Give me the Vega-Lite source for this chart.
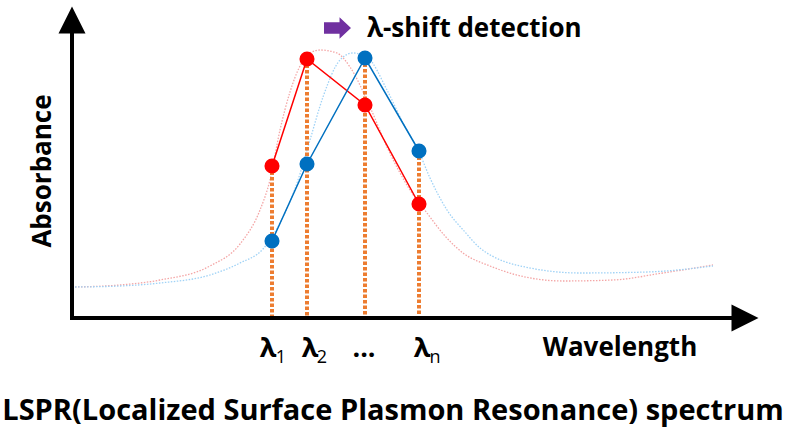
{
  "$schema": "https://vega.github.io/schema/vega-lite/v6.json",
  "width": 787,
  "height": 432,
  "autosize": "none",
  "padding": 0,
  "background": "white",
  "config": {"view": {"stroke": null}, "font": "Open Sans"},
  "resolve": {"scale": {"color": "independent", "shape": "independent"}},
  "datasets": {
    "curves": [
      {"sample": "red", "x": 3, "y": 31}, {"sample": "red", "x": 48, "y": 33}, {"sample": "red", "x": 88, "y": 38},
      {"sample": "red", "x": 138, "y": 52}, {"sample": "red", "x": 168, "y": 74}, {"sample": "red", "x": 188, "y": 108},
      {"sample": "red", "x": 198, "y": 138}, {"sample": "red", "x": 208, "y": 188}, {"sample": "red", "x": 218, "y": 226},
      {"sample": "red", "x": 228, "y": 252}, {"sample": "red", "x": 238, "y": 265}, {"sample": "red", "x": 248, "y": 268},
      {"sample": "red", "x": 265, "y": 265}, {"sample": "red", "x": 278, "y": 251}, {"sample": "red", "x": 298, "y": 211},
      {"sample": "red", "x": 315, "y": 171}, {"sample": "red", "x": 338, "y": 128}, {"sample": "red", "x": 355, "y": 105},
      {"sample": "red", "x": 373, "y": 82}, {"sample": "red", "x": 391, "y": 65}, {"sample": "red", "x": 418, "y": 52},
      {"sample": "red", "x": 441, "y": 44}, {"sample": "red", "x": 491, "y": 37}, {"sample": "red", "x": 541, "y": 38},
      {"sample": "red", "x": 591, "y": 45}, {"sample": "red", "x": 641, "y": 53},
      {"sample": "blue", "x": 3, "y": 31}, {"sample": "blue", "x": 48, "y": 32}, {"sample": "blue", "x": 88, "y": 35},
      {"sample": "blue", "x": 138, "y": 43}, {"sample": "blue", "x": 168, "y": 55}, {"sample": "blue", "x": 191, "y": 69},
      {"sample": "blue", "x": 208, "y": 95}, {"sample": "blue", "x": 225, "y": 135}, {"sample": "blue", "x": 238, "y": 178},
      {"sample": "blue", "x": 251, "y": 221}, {"sample": "blue", "x": 268, "y": 258}, {"sample": "blue", "x": 281, "y": 265},
      {"sample": "blue", "x": 295, "y": 261}, {"sample": "blue", "x": 315, "y": 228}, {"sample": "blue", "x": 331, "y": 195},
      {"sample": "blue", "x": 347, "y": 166}, {"sample": "blue", "x": 358, "y": 140}, {"sample": "blue", "x": 375, "y": 108},
      {"sample": "blue", "x": 393, "y": 86}, {"sample": "blue", "x": 408, "y": 70}, {"sample": "blue", "x": 458, "y": 50},
      {"sample": "blue", "x": 508, "y": 45}, {"sample": "blue", "x": 575, "y": 46}, {"sample": "blue", "x": 641, "y": 52}
    ],
    "samples": [
      {"sample": "red", "lambda": "λ1", "x": 200, "y": 152},
      {"sample": "red", "lambda": "λ2", "x": 235, "y": 259},
      {"sample": "red", "lambda": "...", "x": 293, "y": 213},
      {"sample": "red", "lambda": "λn", "x": 347, "y": 114},
      {"sample": "blue", "lambda": "λ1", "x": 200, "y": 77},
      {"sample": "blue", "lambda": "λ2", "x": 235, "y": 154},
      {"sample": "blue", "lambda": "...", "x": 293, "y": 260},
      {"sample": "blue", "lambda": "λn", "x": 347, "y": 167}
    ],
    "drops": [
      {"lambda": "λ1", "x": 200, "y": 152},
      {"lambda": "λ2", "x": 235, "y": 259},
      {"lambda": "...", "x": 293, "y": 260},
      {"lambda": "λn", "x": 347, "y": 167}
    ],
    "axes": [
      {"axis": "absorbance", "x": 0, "x2": 0, "y": -2, "y2": 296},
      {"axis": "wavelength", "x": -2, "x2": 666, "y": 0, "y2": 0}
    ],
    "heads": [
      {"dir": "up", "x": 0, "y": 298},
      {"dir": "right", "x": 673, "y": 0}
    ],
    "shift": [
      {"dir": "shift", "x": 265.5, "y": 290}
    ],
    "labels": [
      {"role": "lambda", "text": "λ", "x": 196, "y": -39},
      {"role": "lambda", "text": "λ", "x": 238, "y": -39},
      {"role": "lambda", "text": "...", "x": 292, "y": -39},
      {"role": "lambda", "text": "λ", "x": 350, "y": -39},
      {"role": "sub", "text": "1", "x": 209, "y": -45},
      {"role": "sub", "text": "2", "x": 250, "y": -45},
      {"role": "sub", "text": "n", "x": 363, "y": -45},
      {"role": "xtitle", "text": "Wavelength", "x": 548, "y": -38},
      {"role": "ytitle", "text": "Absorbance", "x": -29, "y": 147},
      {"role": "title", "text": "LSPR(Localized Surface Plasmon Resonance) spectrum", "x": 321, "y": -102},
      {"role": "note", "text": "λ-shift detection", "x": 295, "y": 281}
    ]
  },
  "encoding": {
    "x": {"field": "x", "type": "quantitative", "scale": {"domain": [-72, 715], "nice": false, "zero": false}, "axis": null},
    "y": {"field": "y", "type": "quantitative", "scale": {"domain": [-114, 318], "nice": false, "zero": false}, "axis": null}
  },
  "layer": [
    {
      "data": {"name": "curves"},
      "mark": {"type": "line", "interpolate": "monotone", "strokeWidth": 1.3, "strokeDash": [1.5, 1.5]},
      "encoding": {
        "detail": {"field": "sample"},
        "color": {"field": "sample", "type": "nominal", "scale": {"domain": ["red", "blue"], "range": ["#F4A6A6", "#9FD2F6"]}, "legend": null}
      }
    },
    {
      "data": {"name": "drops"},
      "mark": {"type": "rule", "color": "#ED7D31", "strokeWidth": 4, "strokeDash": [3.5, 2]},
      "encoding": {"y2": {"datum": 0}}
    },
    {
      "data": {"name": "axes"},
      "mark": {"type": "rule", "color": "black", "strokeWidth": 4},
      "encoding": {"x2": {"field": "x2"}, "y2": {"field": "y2"}}
    },
    {
      "data": {"name": "heads"},
      "mark": {"type": "point", "filled": true, "color": "black", "opacity": 1, "size": 729},
      "encoding": {
        "shape": {"field": "dir", "type": "nominal", "scale": {"domain": ["up", "right"], "range": ["M0,-1L1,1L-1,1Z", "M1,0L-1,1L-1,-1Z"]}, "legend": null}
      }
    },
    {
      "data": {"name": "shift"},
      "mark": {"type": "point", "filled": true, "color": "#7030A0", "opacity": 1, "size": 729, "shape": "M-1,-0.42L0.15,-0.42L0.15,-0.8L1,0L0.15,0.8L0.15,0.42L-1,0.42Z"}
    },
    {
      "data": {"name": "samples"},
      "mark": {"type": "line", "strokeWidth": 1.5},
      "encoding": {
        "detail": {"field": "sample"},
        "color": {"field": "sample", "type": "nominal", "scale": {"domain": ["red", "blue"], "range": ["#FF0000", "#0070C0"]}, "legend": null}
      }
    },
    {
      "data": {"name": "samples"},
      "mark": {"type": "circle", "size": 227, "opacity": 1},
      "encoding": {
        "color": {"field": "sample", "type": "nominal", "scale": {"domain": ["red", "blue"], "range": ["#FF0000", "#0070C0"]}, "legend": null}
      }
    },
    {
      "data": {"name": "labels"},
      "transform": [{"filter": "datum.role === 'lambda'"}],
      "mark": {"type": "text", "fontSize": 27, "fontWeight": "bold", "align": "center", "baseline": "alphabetic", "color": "black"},
      "encoding": {"text": {"field": "text"}}
    },
    {
      "data": {"name": "labels"},
      "transform": [{"filter": "datum.role === 'sub'"}],
      "mark": {"type": "text", "fontSize": 18, "fontWeight": "normal", "align": "center", "baseline": "alphabetic", "color": "black"},
      "encoding": {"text": {"field": "text"}}
    },
    {
      "data": {"name": "labels"},
      "transform": [{"filter": "datum.role === 'xtitle'"}],
      "mark": {"type": "text", "fontSize": 26, "fontWeight": "bold", "align": "center", "baseline": "alphabetic", "color": "black"},
      "encoding": {"text": {"field": "text"}}
    },
    {
      "data": {"name": "labels"},
      "transform": [{"filter": "datum.role === 'ytitle'"}],
      "mark": {"type": "text", "fontSize": 26, "fontWeight": "bold", "align": "center", "baseline": "middle", "angle": 270, "color": "black"},
      "encoding": {"text": {"field": "text"}}
    },
    {
      "data": {"name": "labels"},
      "transform": [{"filter": "datum.role === 'title'"}],
      "mark": {"type": "text", "fontSize": 29, "fontWeight": "bold", "align": "center", "baseline": "alphabetic", "color": "black"},
      "encoding": {"text": {"field": "text"}}
    },
    {
      "data": {"name": "labels"},
      "transform": [{"filter": "datum.role === 'note'"}],
      "mark": {"type": "text", "fontSize": 26, "fontWeight": "bold", "align": "left", "baseline": "alphabetic", "color": "black"},
      "encoding": {"text": {"field": "text"}}
    }
  ]
}
